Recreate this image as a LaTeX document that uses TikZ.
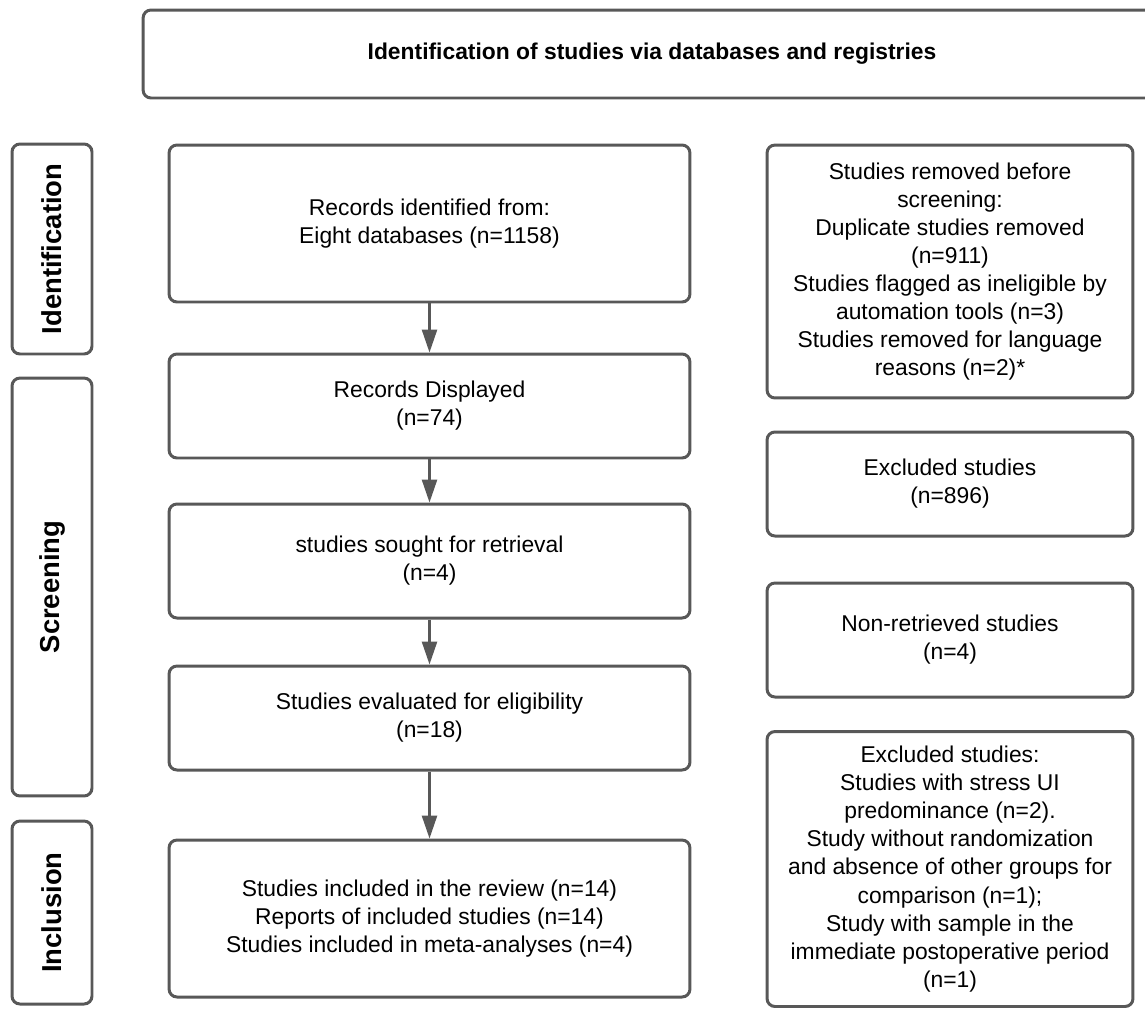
\documentclass[tikz,border=0pt]{standalone}
\usepackage{fontspec}
\setmainfont{Liberation Sans}
\usetikzlibrary{arrows.meta}
\tikzset{>={Triangle[length=13pt,width=8.5pt]}}
\definecolor{linegray}{HTML}{585858}
\tikzset{
  box/.style={draw=linegray, line width=1.7pt, rounded corners=4.5pt, fill=white,
    align=center, inner sep=2pt, font=\fontsize{13pt}{16pt}\selectfont},
  mainbox/.style={box, minimum width=10.42cm},
  sidebox/.style={box, minimum width=7.32cm},
  stagebox/.style={box, rotate=90, minimum height=1.6cm,
    font=\fontsize{15.6pt}{18pt}\selectfont\bfseries},
  flow/.style={->, draw=linegray, line width=1.4pt}
}
\begin{document}
\begin{tikzpicture}[x=0.02cm, y=-0.02cm]
\useasboundingbox (0,0) rectangle (1145,1009);
\node [box, minimum width=20.36cm, minimum height=1.76cm, font=\fontsize{13pt}{16pt}\selectfont\bfseries] (head) at (652,54) {Identification of studies via databases and registries};
% phases
\node [stagebox, minimum width=4.2cm] (sid) at (52,249) {Identification};
\node [stagebox, minimum width=8.36cm] (sscr) at (52,587) {Screening};
\node [stagebox, minimum width=3.66cm] (sinc) at (52,912.5) {Inclusion};
% main column
\node [mainbox, minimum height=3.14cm] (recid) at (429.5,223.5) {Records identified from:\\Eight databases (n=1158)};
\node [mainbox, minimum height=2.08cm] (recdisp) at (429.5,406) {Records Displayed\\(n=74)};
\node [mainbox, minimum height=2.28cm] (sought) at (429.5,561) {studies sought for retrieval\\(n=4)};
\node [mainbox, minimum height=2.08cm] (elig) at (429.5,718) {Studies evaluated for eligibility\\(n=18)};
\node [mainbox, minimum height=3.14cm] (incl) at (429.5,918.5) {Studies included in the review (n=14)\\Reports of included studies (n=14)\\Studies included in meta-analyses (n=4)};
% side column
\node [sidebox, minimum height=5.06cm] (removed) at (950,271.5) {Studies removed before\\screening:\\Duplicate studies removed\\(n=911)\\Studies flagged as ineligible by\\automation tools (n=3)\\Studies removed for language\\reasons (n=2)*};
\node [sidebox, minimum height=2.08cm] (excl) at (950,484) {Excluded studies\\(n=896)};
\node [sidebox, minimum height=2.28cm] (nonret) at (950,640) {Non-retrieved studies\\(n=4)};
\node [sidebox, minimum height=5.5cm] (exclel) at (950,869) {Excluded studies:\\Studies with stress UI\\predominance (n=2).\\Study without randomization\\and absence of other groups for\\comparison (n=1);\\Study with sample in the\\immediate postoperative period\\(n=1)};
% arrows
\draw [flow] (recid) -- (recdisp);
\draw [flow] (recdisp) -- (sought);
\draw [flow] (sought) -- (elig);
\draw [flow] (elig) -- (incl);
\end{tikzpicture}
\end{document}
